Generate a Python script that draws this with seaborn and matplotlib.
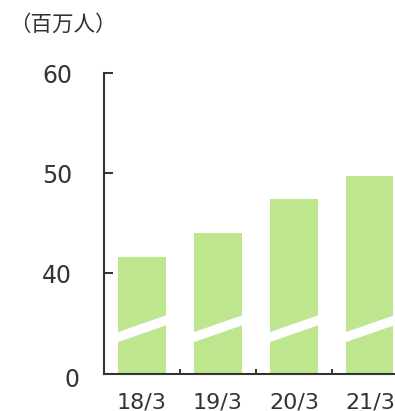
import matplotlib
matplotlib.use("Agg")
import matplotlib.pyplot as plt
from matplotlib.patches import Polygon
import seaborn as sns
import pandas as pd

categories = ["18/3", "19/3", "20/3", "21/3"]
values = [41.6, 44.0, 47.4, 49.7]
ytick_values = [40, 50, 60]
unit_label = "（百万人）"

sns.set_style("white")
plt.rcParams["font.family"] = ["DejaVu Sans"]

df = pd.DataFrame({"period": categories, "value": values})

fig = plt.figure(figsize=(3.95, 4.11), dpi=100)
ax = fig.add_axes([104 / 395, 37 / 411, 1 - 104 / 395, (374 - 73) / 411])

sns.barplot(data=df, x="period", y="value", color="#BEE68F", width=0.62,
            saturation=1, ax=ax, edgecolor="none")

ax.set_ylim(29.9, 60)
ax.set_xlim(-0.5, 3.33)

# break band on each bar
for p in ax.patches:
    x0 = p.get_x() - 0.02
    x1 = p.get_x() + p.get_width() + 0.02
    lo0, lo1 = 33.05, 34.8
    gap = 1.0
    poly = Polygon([(x0, lo0), (x1, lo1), (x1, lo1 + gap), (x0, lo0 + gap)],
                   closed=True, facecolor="white", edgecolor="none", zorder=5)
    ax.add_patch(poly)

for s in ["top", "right"]:
    ax.spines[s].set_visible(False)
for s in ["left", "bottom"]:
    ax.spines[s].set_color("#333333")
    ax.spines[s].set_linewidth(1.5)

ax.set_yticks(ytick_values)
ax.set_yticklabels([str(v) for v in ytick_values])
ax.tick_params(axis="y", left=True, direction="in", length=6.5, width=1.4,
               color="#333333", labelsize=17, labelcolor="#333333", pad=23)

ax.set_xticks(range(len(categories)))
ax.set_xticklabels(categories)
ax.set_xticks([i + 0.5 for i in range(len(categories) - 1)], minor=True)
ax.tick_params(axis="x", which="major", bottom=True, length=0, labelsize=16,
               labelcolor="#333333", pad=13)
ax.tick_params(axis="x", which="minor", bottom=True, direction="in", length=3.8,
               width=1.4, color="#333333")
ax.set_xlabel("")
ax.set_ylabel("")

fig.text(71.5 / 395, 1 - 380 / 411, "0", ha="center", va="center",
         fontsize=17, color="#333333")
fig.text(9 / 395, 1 - 25 / 411, unit_label, ha="left", va="center",
         fontsize=15.5, color="#333333", family=["Noto Sans CJK JP", "DejaVu Sans"])

fig.savefig("out.png", dpi=100)
